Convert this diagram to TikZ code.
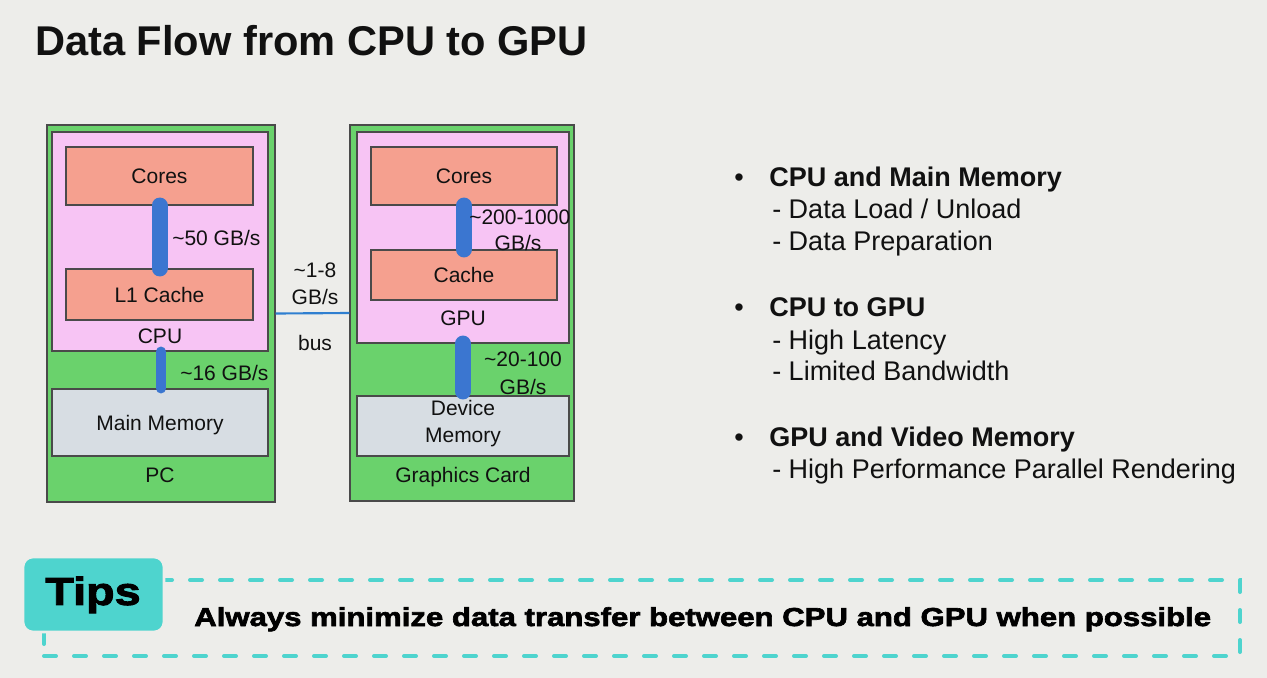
\documentclass[tikz,border=0pt]{standalone}
\usepackage{fontspec}
\setmainfont{Liberation Sans}
\newfontfamily\tipfont{Liberation Sans Bold}[FakeBold=2.5,FakeStretch=1.2]
\definecolor{bgc}{HTML}{EDEDEA}
\definecolor{grn}{HTML}{6AD26C}
\definecolor{pnk}{HTML}{F7C4F4}
\definecolor{sal}{HTML}{F5A08F}
\definecolor{mem}{HTML}{D7DDE3}
\definecolor{barblue}{HTML}{3B76D0}
\definecolor{busblue}{HTML}{2F7FD0}
\definecolor{edge}{HTML}{4A4A4A}
\definecolor{teal}{HTML}{4ED4CE}
\definecolor{ink}{HTML}{111111}
\newcommand\lblfont{\fontsize{15.75pt}{20pt}\selectfont}
\newcommand\bulfont{\fontsize{20.25pt}{24pt}\selectfont}
\begin{document}
\begin{tikzpicture}[x=0.75pt,y=-0.75pt,
  sz/.style 2 args={minimum width=#1*0.75pt, minimum height=#2*0.75pt},
  boxbase/.style={draw=edge, line width=0.8pt, inner sep=0pt, font=\lblfont, text=ink, text height=11.3pt, text depth=0pt},
  gbox/.style={boxbase, fill=grn},
  pbox/.style={boxbase, fill=pnk},
  sbox/.style={boxbase, fill=sal},
  mbox/.style={boxbase, fill=mem},
  lbl/.style={font=\lblfont, text=ink, inner sep=0pt, text height=11.3pt, text depth=0pt},
  bar/.style={draw=barblue, line width=12pt, line cap=round},
  thinbar/.style={draw=barblue, line width=7.5pt, line cap=round},
  bus/.style={draw=busblue, line width=1.6pt},
  bul/.style={font=\bulfont, text=ink, inner sep=0pt, anchor=base west},
  tipbox/.style={fill=teal, draw=bgc, line width=2pt, rounded corners=7.5pt, inner sep=0pt},
  tipframe/.style={draw=teal, line width=3pt, dash pattern=on 9pt off 13.5pt, line cap=round, inner sep=0pt}
]
\fill[bgc] (0,0) rectangle (1267,678);
\useasboundingbox (0,0) rectangle (1267,678);

% title
\node[anchor=base west, inner sep=0pt, font=\fontsize{31.2pt}{36pt}\selectfont\bfseries, text=ink] (title) at (35,55) {Data Flow from CPU to GPU};

% ---- PC ----
\node[gbox, sz={228}{377}] (pc) at (161,313.5) {};
\node[pbox, sz={216}{219}] (cpu) at (160,241.5) {};
\node[sbox, sz={187}{58}] (cores1) at (159.5,176) {Cores};
\node[sbox, sz={187}{51}] (l1) at (159.5,294.5) {L1 Cache};
\node[mbox, sz={216}{67}] (mainmem) at (160,422.5) {Main Memory};
\node[lbl] (cpulbl) at (160,336) {CPU};
\node[lbl] (pclbl) at (160,475) {PC};
\draw[bar] (cores1.south) -- (l1.north);
\draw[thinbar] (cpu.south -| 161,0) -- (mainmem.north -| 161,0);
\node[lbl, anchor=west] (bw50) at (172,238) {\textasciitilde 50 GB/s};
\node[lbl, anchor=west] (bw16) at (180,373) {\textasciitilde 16 GB/s};

% ---- Graphics card ----
\node[gbox, sz={224}{376}] (gc) at (462,313) {};
\node[pbox, sz={212}{211}] (gpu) at (463,237.5) {};
\node[sbox, sz={186}{58}] (cores2) at (464,176) {Cores};
\node[sbox, sz={186}{50}] (cache) at (464,275) {Cache};
\node[mbox, sz={212}{60}] (devmem) at (463,426) {};
\node[font=\fontsize{15.75pt}{20.25pt}\selectfont, text=ink, inner sep=0pt, align=center] (devlbl) at (463,424) {Device\\Memory};
\node[lbl] (gpulbl) at (463,318) {GPU};
\node[lbl] (gclbl) at (463,475) {Graphics Card};
\draw[bar] (cores2.south) -- (cache.north);
\draw[bar] (gpu.south) -- ([yshift=3pt]devmem.north);
\node[lbl, anchor=west] (bw200a) at (469,217) {\textasciitilde 200-1000};
\node[lbl] (bw200b) at (518,243) {GB/s};
\node[lbl] (bw20a) at (523,359) {\textasciitilde 20-100};
\node[lbl] (bw20b) at (523,387) {GB/s};

% ---- bus ----
\draw[bus] (pc.east) -- (gc.west);
\node[lbl] (bus1) at (315,270) {\textasciitilde 1-8};
\node[lbl] (bus2) at (315,297) {GB/s};
\node[lbl] (bus3) at (315,343) {bus};

% ---- bullets ----
\node[bul] (d1) at (734,186.7) {•};
\node[bul, font=\bulfont\bfseries] (h1) at (769,186.7) {CPU and Main Memory};
\node[bul] (s11) at (772,218.3) {- Data Load / Unload};
\node[bul] (s12) at (772,250) {- Data Preparation};
\node[bul] (d2) at (734,316.7) {•};
\node[bul, font=\bulfont\bfseries] (h2) at (769,316.7) {CPU to GPU};
\node[bul] (s21) at (772,349.3) {- High Latency};
\node[bul] (s22) at (772,380.7) {- Limited Bandwidth};
\node[bul] (d3) at (734,446) {•};
\node[bul, font=\bulfont\bfseries] (h3) at (769,446) {GPU and Video Memory};
\node[bul] (s31) at (772,478.3) {- High Performance Parallel Rendering};

% ---- tips ----
\node[tipframe, sz={1196}{76}] (frame) at (642,618) {};
\node[tipbox, sz={141}{75}] (tips) at (93.5,594.5) {};
\node[font=\fontsize{29.25pt}{34pt}\tipfont, text=black, inner sep=0pt, text height=20.9pt, text depth=0pt] (tipslbl) at (93,591) {Tips};
\node[anchor=base west, inner sep=0pt, font=\fontsize{19.45pt}{24pt}\tipfont, text=black] (msg) at (194,626) {Always minimize data transfer between CPU and GPU when possible};
\end{tikzpicture}
\end{document}
